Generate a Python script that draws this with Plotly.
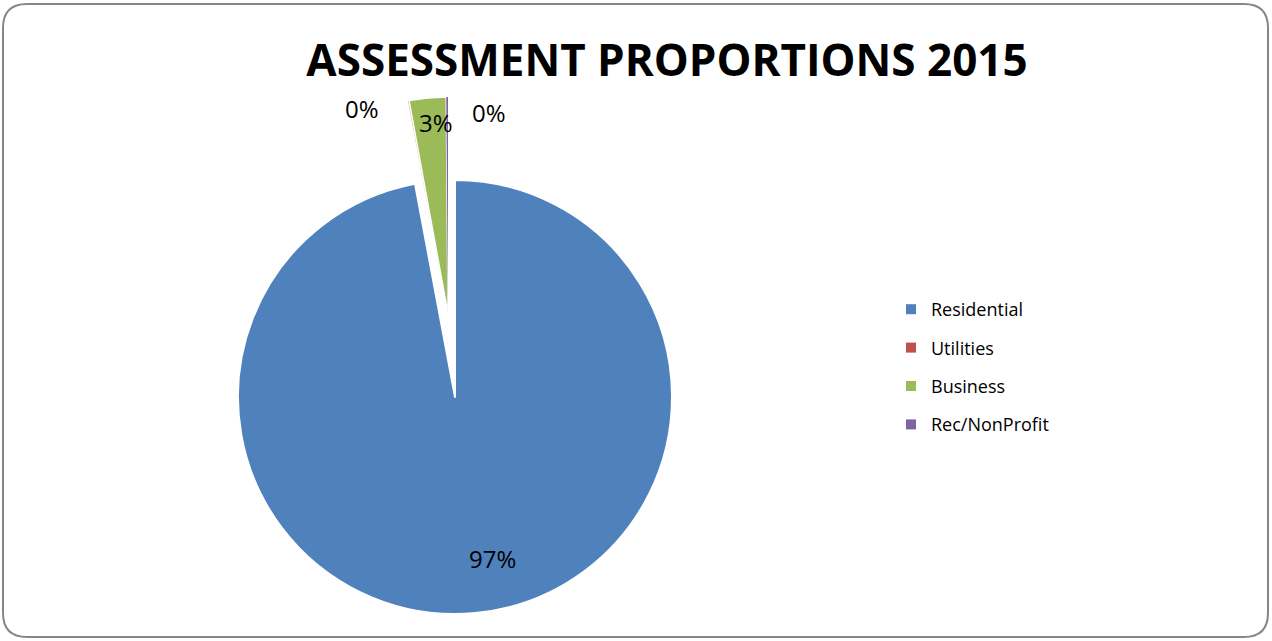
import plotly.graph_objects as go

# ---- data -------------------------------------------------------------
categories = ["Residential", "Utilities", "Business", "Rec/NonProfit"]
shares = [97.05, 0.08, 2.74, 0.13]          # share of total assessment, %
colors = ["#4F81BD", "#C0504D", "#9BBB59", "#8064A2"]
title_text = "ASSESSMENT PROPORTIONS 2015"

W, H = 1272, 641
CLEAR = "rgba(0,0,0,0)"


def px_x(x):
    return x / W


def px_y(y):
    return 1 - y / H


def pie_domain(cx, cy, r):
    return dict(x=[px_x(cx - r), px_x(cx + r)], y=[px_y(cy + r), px_y(cy - r)])


R = 217
main_c = (455, 397)          # centre of the whole pie
pulled_c = (448, 314)        # centre used for the exploded small slices

fig = go.Figure()

# Main pie: only Residential is painted here
fig.add_trace(go.Pie(
    labels=categories, values=shares, sort=False, direction="clockwise",
    rotation=0, domain=pie_domain(*main_c, R),
    marker=dict(colors=[colors[0], CLEAR, CLEAR, CLEAR],
                line=dict(color=["white", CLEAR, CLEAR, CLEAR], width=[2, 0, 0, 0])),
    textinfo="none", showlegend=False, hoverinfo="label+percent",
))

# Exploded slices: the small categories, pulled out of the pie
fig.add_trace(go.Pie(
    labels=categories, values=shares, sort=False, direction="clockwise",
    rotation=0, domain=pie_domain(*pulled_c, R),
    marker=dict(colors=[CLEAR] + colors[1:],
                line=dict(color=[CLEAR, "white", "white", CLEAR], width=[0, 0.4, 1.5, 0])),
    textinfo="none", showlegend=False, hoverinfo="label+percent",
))

# Legend entries (square swatches)
for name, col in zip(categories, colors):
    fig.add_trace(go.Scatter(
        x=[None], y=[None], mode="markers", name=name, legendgroup=name,
        marker=dict(symbol="square", size=10, color=col), hoverinfo="skip",
    ))

# Percentage labels
total = sum(shares)
pct = {c: f"{round(v / total * 100)}%" for c, v in zip(categories, shares)}
label_pos = {
    "Residential": (492, 558),
    "Utilities": (362, 108),
    "Business": (436, 122),
    "Rec/NonProfit": (489, 113),
}
annotations = []
for c in categories:
    x, y = label_pos[c]
    annotations.append(dict(
        x=px_x(x), y=px_y(y), xref="paper", yref="paper", text=pct[c],
        showarrow=False, xanchor="center", yanchor="middle",
        font=dict(family="Open Sans", size=24, color="black"),
    ))

# Rounded chart border
x0, y0, x1, y1, rr = 3, 4, 1268, 637, 24
pts = [
    f"M {px_x(x0 + rr)},{px_y(y0)}",
    f"L {px_x(x1 - rr)},{px_y(y0)}",
    f"Q {px_x(x1)},{px_y(y0)} {px_x(x1)},{px_y(y0 + rr)}",
    f"L {px_x(x1)},{px_y(y1 - rr)}",
    f"Q {px_x(x1)},{px_y(y1)} {px_x(x1 - rr)},{px_y(y1)}",
    f"L {px_x(x0 + rr)},{px_y(y1)}",
    f"Q {px_x(x0)},{px_y(y1)} {px_x(x0)},{px_y(y1 - rr)}",
    f"L {px_x(x0)},{px_y(y0 + rr)}",
    f"Q {px_x(x0)},{px_y(y0)} {px_x(x0 + rr)},{px_y(y0)} Z",
]
border = dict(type="path", xref="paper", yref="paper", path=" ".join(pts),
              line=dict(color="#868686", width=2), fillcolor=CLEAR, layer="below")

fig.update_layout(
    width=W, height=H,
    margin=dict(l=0, r=0, t=0, b=0),
    paper_bgcolor="white", plot_bgcolor="white",
    xaxis=dict(visible=False), yaxis=dict(visible=False),
    title=dict(text=title_text, x=px_x(667), xanchor="center",
               y=px_y(61), yanchor="middle",
               font=dict(family="Open Sans", size=44, color="black", weight="bold")),
    showlegend=True,
    legend=dict(x=px_x(891), xanchor="left", y=px_y(291), yanchor="top",
                traceorder="grouped", tracegroupgap=12,
                font=dict(family="Open Sans", size=18, color="black"),
                bgcolor=CLEAR, borderwidth=0),
    annotations=annotations,
    shapes=[border],
)

fig.write_html("out.html")
